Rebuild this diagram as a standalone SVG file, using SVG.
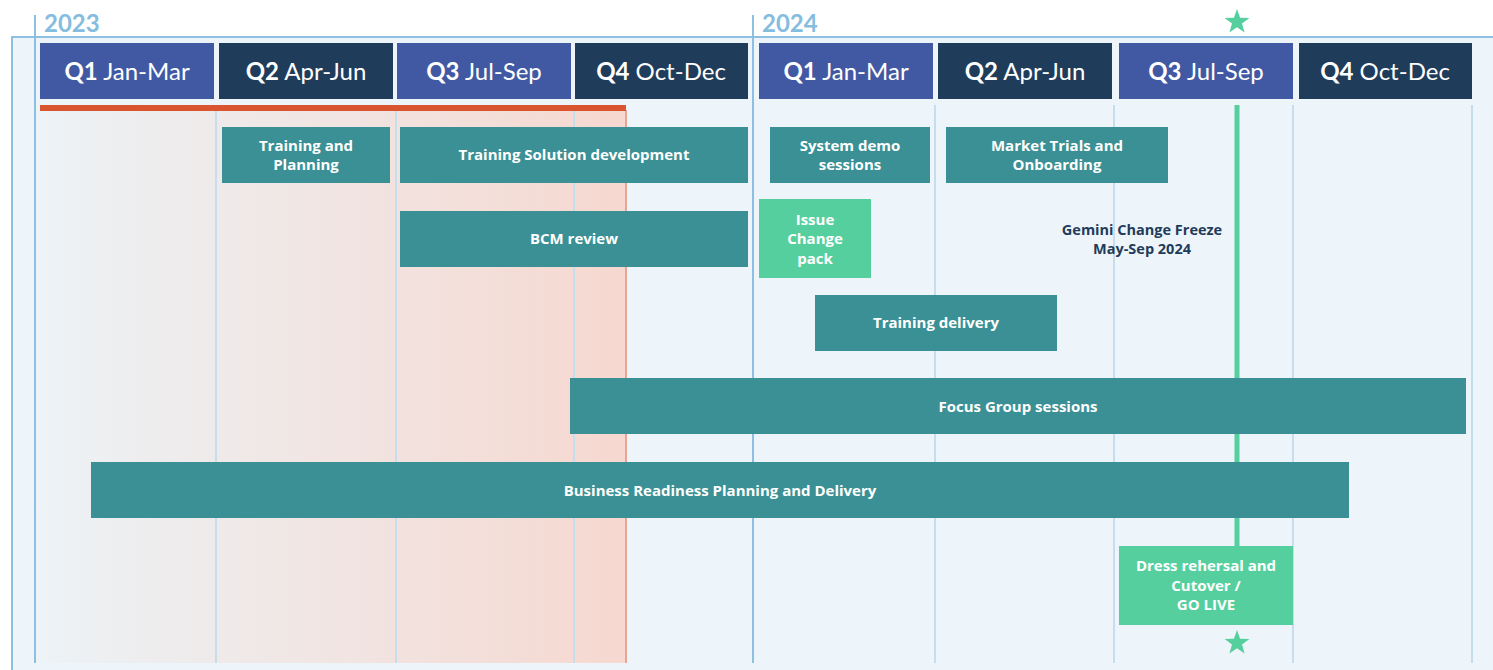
<svg xmlns="http://www.w3.org/2000/svg" width="1493" height="670" viewBox="0 0 1493 670">
<defs>
<linearGradient id="warm" x1="0" y1="0" x2="1" y2="0">
<stop offset="0" stop-color="#eef3f7"/>
<stop offset="0.12" stop-color="#edeff1"/>
<stop offset="1" stop-color="#f6d8d0"/>
</linearGradient>
<polygon id="star" points="0,-13 3.1,-4.2 12.4,-4 5,1.6 7.6,10.5 0,5.2 -7.6,10.5 -5,1.6 -12.4,-4 -3.1,-4.2"/>
</defs>
<style>
.hdrA{fill:#4159a3}
.hdrB{fill:#1f3c5b}
.ht{font-family:Lato,"Noto Sans",sans-serif;font-size:24px;fill:#ffffff;text-anchor:middle}
.ht tspan.b{font-weight:bold}
.yr{font-family:Lato,"Noto Sans",sans-serif;font-size:24px;font-weight:bold;fill:#85bde0}
.grid{stroke:#c6ddee;stroke-width:2}
.yline{stroke:#8dbfe0;stroke-width:2}
.teal{fill:#3a9094}
.green{fill:#56cf9e}
.bt{font-family:"Open Sans","Noto Sans",sans-serif;font-size:15px;font-weight:bold;fill:#ffffff;text-anchor:middle}
.note{font-family:"Open Sans","Noto Sans",sans-serif;font-size:14.5px;font-weight:bold;fill:#1f3c5b;text-anchor:middle}
</style>
<rect width="1493" height="670" fill="#ffffff"/>
<rect x="12" y="37" width="1500" height="640" fill="#eef5fa" stroke="#8dbfe0" stroke-width="2"/>
<rect x="35" y="110" width="591" height="553" fill="url(#warm)"/>
<line x1="626" y1="110" x2="626" y2="663" stroke="#e9a594" stroke-width="2"/>
<g id="grid">
<line class="grid" x1="216" y1="105" x2="216" y2="663"/>
<line class="grid" x1="396" y1="105" x2="396" y2="663"/>
<line class="grid" x1="574" y1="105" x2="574" y2="663"/>
<line class="grid" x1="935" y1="105" x2="935" y2="663"/>
<line class="grid" x1="1114" y1="105" x2="1114" y2="663"/>
<line class="grid" x1="1293" y1="105" x2="1293" y2="663"/>
<line class="grid" x1="1472" y1="105" x2="1472" y2="663" stroke="#a9cde6"/>
<line class="yline" x1="35" y1="15" x2="35" y2="663"/>
<line class="yline" x1="753" y1="15" x2="753" y2="663"/>
</g>
<text class="yr" x="44" y="32">2023</text>
<text class="yr" x="762" y="32">2024</text>
<g id="headers">
<g id="h2023q1"><rect class="hdrA" x="40" y="43" width="174" height="56"/><text class="ht" x="127" y="80"><tspan class="b">Q1</tspan> Jan-Mar</text></g>
<g id="h2023q2"><rect class="hdrB" x="219" y="43" width="174" height="56"/><text class="ht" x="306" y="80"><tspan class="b">Q2</tspan> Apr-Jun</text></g>
<g id="h2023q3"><rect class="hdrA" x="397" y="43" width="174" height="56"/><text class="ht" x="484" y="80"><tspan class="b">Q3</tspan> Jul-Sep</text></g>
<g id="h2023q4"><rect class="hdrB" x="575" y="43" width="173" height="56"/><text class="ht" x="661" y="80"><tspan class="b">Q4</tspan> Oct-Dec</text></g>
<g id="h2024q1"><rect class="hdrA" x="759" y="43" width="174" height="56"/><text class="ht" x="846" y="80"><tspan class="b">Q1</tspan> Jan-Mar</text></g>
<g id="h2024q2"><rect class="hdrB" x="938" y="43" width="174" height="56"/><text class="ht" x="1025" y="80"><tspan class="b">Q2</tspan> Apr-Jun</text></g>
<g id="h2024q3"><rect class="hdrA" x="1119" y="43" width="174" height="56"/><text class="ht" x="1206" y="80"><tspan class="b">Q3</tspan> Jul-Sep</text></g>
<g id="h2024q4"><rect class="hdrB" x="1299" y="43" width="173" height="56"/><text class="ht" x="1385" y="80"><tspan class="b">Q4</tspan> Oct-Dec</text></g>
</g>
<rect x="40" y="105" width="586" height="6" fill="#d9552f"/>
<g id="freeze">
<rect x="1234.5" y="105" width="5" height="441" fill="#56cf9e"/>
<use href="#star" x="1237" y="22" fill="#56cf9e"/>
<use href="#star" x="1237" y="643" fill="#56cf9e"/>
<text class="note" x="1142" y="235">Gemini Change Freeze</text>
<text class="note" x="1142" y="254">May-Sep 2024</text>
</g>
<g id="n-training-planning"><rect class="teal" x="222" y="127" width="168" height="56"/><text class="bt" x="306" y="151">Training and</text><text class="bt" x="306" y="170">Planning</text></g>
<g id="n-solution-dev"><rect class="teal" x="400" y="127" width="348" height="56"/><text class="bt" x="574" y="160">Training Solution development</text></g>
<g id="n-system-demo"><rect class="teal" x="770" y="127" width="160" height="56"/><text class="bt" x="850" y="151">System demo</text><text class="bt" x="850" y="170">sessions</text></g>
<g id="n-market-trials"><rect class="teal" x="946" y="127" width="222" height="56"/><text class="bt" x="1057" y="151">Market Trials and</text><text class="bt" x="1057" y="170">Onboarding</text></g>
<g id="n-bcm"><rect class="teal" x="400" y="211" width="348" height="56"/><text class="bt" x="574" y="244">BCM review</text></g>
<g id="n-issue"><rect class="green" x="759" y="199" width="112" height="79"/><text class="bt" x="815" y="225">Issue</text><text class="bt" x="815" y="244">Change</text><text class="bt" x="815" y="264">pack</text></g>
<g id="n-training-delivery"><rect class="teal" x="815" y="295" width="242" height="56"/><text class="bt" x="936" y="328">Training delivery</text></g>
<g id="n-focus"><rect class="teal" x="570" y="378" width="896" height="56"/><text class="bt" x="1018" y="412">Focus Group sessions</text></g>
<g id="n-business"><rect class="teal" x="91" y="462" width="1258" height="56"/><text class="bt" x="720" y="496">Business Readiness Planning and Delivery</text></g>
<g id="n-golive"><rect class="green" x="1119" y="546" width="174" height="79"/><text class="bt" x="1206" y="571">Dress rehersal and</text><text class="bt" x="1206" y="591">Cutover /</text><text class="bt" x="1206" y="610">GO LIVE</text></g>
</svg>
